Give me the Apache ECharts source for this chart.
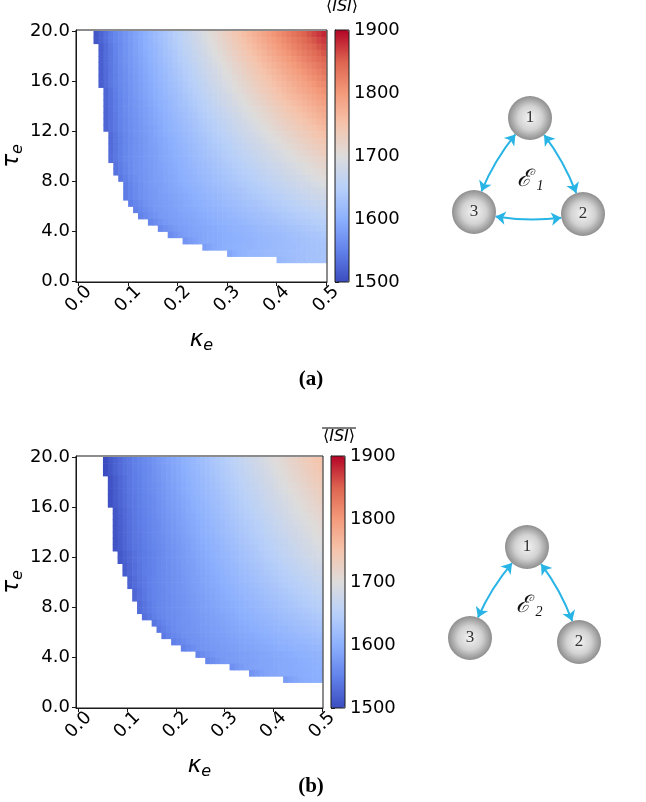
<!DOCTYPE html>
<html>
<head>
<meta charset="utf-8">
<title>ISI maps</title>
<script src="https://cdn.jsdelivr.net/npm/echarts@6/dist/echarts.min.js"></script>
<style>
  html, body { margin: 0; padding: 0; background: #fff; }
  #chart { width: 646px; height: 802px; }
</style>
</head>
<body>
<div id="chart"></div>
<script>
// grid cell centres: kappa_e columns (left to right), tau_e rows (top to bottom)
const kappaCells = [0.005,0.015,0.025,0.035,0.045,0.055,0.065,0.075,0.085,0.095,0.105,0.115,0.125,0.135,0.145,0.155,0.165,0.175,0.185,0.195,0.205,0.215,0.225,0.235,0.245,0.255,0.265,0.275,0.285,0.295,0.305,0.315,0.325,0.335,0.345,0.355,0.365,0.375,0.385,0.395,0.405,0.415,0.425,0.435,0.445,0.455,0.465,0.475,0.485,0.495]
const tauRows = [19.75,19.25,18.75,18.25,17.75,17.25,16.75,16.25,15.75,15.25,14.75,14.25,13.75,13.25,12.75,12.25,11.75,11.25,10.75,10.25,9.75,9.25,8.75,8.25,7.75,7.25,6.75,6.25,5.75,5.25,4.75,4.25,3.75,3.25,2.75,2.25,1.75,1.25,0.75,0.25]

const kappaTicks = [0, 0.1, 0.2, 0.3, 0.4, 0.5]
const tauTicks = [0, 4, 8, 12, 16, 20]

// mean ISI, one row per tau row; every row ends at kappa = 0.495 (empty cells on the left are not stored)
const isiA = [
  [1510,1522,1534,1545,1555,1563,1570,1578,1586,1594,1601,1609,1617,1625,1633,1640,1648,1656,1664,1671,1679,1687,1695,1703,1710,1718,1726,1734,1742,1749,1757,1765,1773,1780,1788,1796,1804,1812,1819,1827,1835,1843,1850,1858,1866,1874,1882],
  [1510,1523,1534,1545,1555,1562,1570,1577,1585,1592,1600,1608,1615,1623,1630,1638,1646,1653,1661,1668,1676,1684,1691,1699,1706,1714,1721,1729,1737,1744,1752,1759,1767,1775,1782,1790,1797,1805,1813,1820,1828,1835,1843,1851,1858,1866,1873],
  [1518,1530,1542,1552,1561,1569,1576,1584,1591,1599,1606,1613,1621,1628,1636,1643,1650,1658,1665,1673,1680,1687,1695,1702,1710,1717,1725,1732,1739,1747,1754,1762,1769,1776,1784,1791,1799,1806,1813,1821,1828,1836,1843,1850,1858,1865],
  [1518,1530,1541,1552,1561,1568,1575,1583,1590,1597,1604,1611,1619,1626,1633,1640,1648,1655,1662,1669,1676,1684,1691,1698,1705,1713,1720,1727,1734,1741,1749,1756,1763,1770,1778,1785,1792,1799,1806,1814,1821,1828,1835,1842,1850,1857],
  [1518,1530,1541,1551,1560,1567,1574,1581,1588,1595,1602,1609,1616,1623,1630,1637,1645,1652,1659,1666,1673,1680,1687,1694,1701,1708,1715,1722,1729,1736,1743,1750,1757,1764,1771,1778,1785,1792,1799,1806,1813,1821,1828,1835,1842,1849],
  [1518,1530,1540,1550,1559,1566,1573,1580,1586,1593,1600,1607,1614,1621,1628,1634,1641,1648,1655,1662,1669,1676,1682,1689,1696,1703,1710,1717,1723,1730,1737,1744,1751,1758,1765,1771,1778,1785,1792,1799,1806,1813,1819,1826,1833,1840],
  [1518,1529,1540,1550,1558,1565,1572,1578,1585,1592,1598,1605,1612,1618,1625,1632,1638,1645,1652,1658,1665,1672,1678,1685,1692,1698,1705,1712,1718,1725,1732,1738,1745,1752,1758,1765,1772,1778,1785,1792,1798,1805,1812,1818,1825,1832],
  [1518,1529,1540,1549,1558,1564,1571,1577,1584,1590,1597,1603,1610,1616,1623,1629,1636,1642,1649,1655,1662,1668,1675,1681,1688,1694,1700,1707,1713,1720,1726,1733,1739,1746,1752,1759,1765,1772,1778,1785,1791,1798,1804,1811,1817,1824],
  [1518,1529,1540,1549,1557,1563,1570,1576,1582,1589,1595,1601,1608,1614,1620,1627,1633,1639,1646,1652,1658,1664,1671,1677,1683,1690,1696,1702,1709,1715,1721,1728,1734,1740,1746,1753,1759,1765,1772,1778,1784,1791,1797,1803,1810,1816],
  [1524,1535,1546,1555,1563,1569,1575,1581,1587,1594,1600,1606,1612,1618,1624,1630,1637,1643,1649,1655,1661,1667,1673,1680,1686,1692,1698,1704,1710,1716,1723,1729,1735,1741,1747,1753,1759,1766,1772,1778,1784,1790,1796,1802,1808],
  [1524,1535,1545,1554,1562,1568,1574,1580,1586,1592,1598,1604,1610,1616,1621,1627,1633,1639,1645,1651,1657,1663,1669,1675,1681,1687,1693,1699,1705,1711,1717,1723,1729,1735,1741,1747,1753,1759,1765,1770,1776,1782,1788,1794,1800],
  [1524,1534,1544,1553,1561,1567,1572,1578,1584,1590,1596,1601,1607,1613,1619,1625,1630,1636,1642,1648,1653,1659,1665,1671,1677,1682,1688,1694,1700,1706,1711,1717,1723,1729,1735,1740,1746,1752,1758,1763,1769,1775,1781,1787,1792],
  [1523,1534,1544,1552,1560,1565,1571,1577,1582,1588,1594,1599,1605,1610,1616,1622,1627,1633,1638,1644,1650,1655,1661,1666,1672,1678,1683,1689,1695,1700,1706,1711,1717,1723,1728,1734,1739,1745,1751,1756,1762,1767,1773,1779,1784],
  [1523,1534,1543,1552,1559,1565,1570,1575,1581,1586,1592,1597,1603,1608,1614,1619,1624,1630,1635,1641,1646,1652,1657,1663,1668,1673,1679,1684,1690,1695,1701,1706,1711,1717,1722,1728,1733,1739,1744,1750,1755,1760,1766,1771,1777],
  [1523,1534,1543,1551,1558,1564,1569,1574,1580,1585,1590,1595,1601,1606,1611,1616,1622,1627,1632,1637,1643,1648,1653,1658,1664,1669,1674,1679,1685,1690,1695,1700,1706,1711,1716,1722,1727,1732,1737,1743,1748,1753,1758,1764,1769],
  [1524,1534,1543,1551,1558,1563,1568,1573,1578,1583,1588,1594,1599,1604,1609,1614,1619,1624,1629,1634,1639,1644,1650,1655,1660,1665,1670,1675,1680,1685,1690,1695,1700,1706,1711,1716,1721,1726,1731,1736,1741,1746,1751,1756,1762],
  [1529,1539,1548,1555,1562,1567,1572,1577,1582,1587,1592,1597,1602,1606,1611,1616,1621,1626,1631,1636,1641,1646,1651,1655,1660,1665,1670,1675,1680,1685,1690,1695,1700,1704,1709,1714,1719,1724,1729,1734,1739,1744,1749,1753],
  [1529,1539,1547,1555,1562,1566,1571,1576,1581,1585,1590,1595,1599,1604,1609,1614,1618,1623,1628,1632,1637,1642,1647,1651,1656,1661,1665,1670,1675,1680,1684,1689,1694,1698,1703,1708,1712,1717,1722,1727,1731,1736,1741,1745],
  [1529,1539,1548,1555,1562,1566,1571,1575,1580,1584,1589,1593,1598,1602,1607,1611,1616,1620,1625,1630,1634,1639,1643,1648,1652,1657,1661,1666,1670,1675,1679,1684,1688,1693,1697,1702,1707,1711,1716,1720,1725,1729,1734,1738],
  [1530,1540,1548,1555,1562,1566,1570,1575,1579,1583,1588,1592,1596,1601,1605,1609,1614,1618,1622,1627,1631,1635,1640,1644,1648,1653,1657,1661,1666,1670,1674,1679,1683,1687,1692,1696,1700,1705,1709,1713,1718,1722,1726,1731],
  [1531,1540,1548,1556,1562,1566,1570,1574,1578,1582,1587,1591,1595,1599,1603,1607,1611,1616,1620,1624,1628,1632,1636,1641,1645,1649,1653,1657,1661,1665,1670,1674,1678,1682,1686,1690,1694,1699,1703,1707,1711,1715,1719,1723],
  [1536,1545,1553,1560,1566,1570,1574,1577,1581,1585,1589,1593,1597,1601,1605,1609,1613,1617,1621,1625,1629,1633,1637,1641,1645,1649,1653,1657,1661,1665,1669,1673,1676,1680,1684,1688,1692,1696,1700,1704,1708,1712,1716],
  [1536,1545,1553,1560,1566,1569,1573,1577,1581,1584,1588,1592,1596,1600,1603,1607,1611,1615,1618,1622,1626,1630,1634,1637,1641,1645,1649,1652,1656,1660,1664,1668,1671,1675,1679,1683,1687,1690,1694,1698,1702,1705,1709],
  [1541,1549,1557,1563,1569,1572,1576,1580,1583,1587,1590,1594,1598,1601,1605,1608,1612,1616,1619,1623,1626,1630,1634,1637,1641,1644,1648,1651,1655,1659,1662,1666,1669,1673,1677,1680,1684,1687,1691,1695,1698,1702],
  [1544,1553,1560,1566,1572,1575,1579,1582,1585,1589,1592,1596,1599,1603,1606,1609,1613,1616,1620,1623,1626,1630,1633,1637,1640,1643,1647,1650,1654,1657,1661,1664,1667,1671,1674,1678,1681,1684,1688,1691,1695],
  [1544,1552,1559,1566,1571,1574,1577,1581,1584,1587,1590,1593,1597,1600,1603,1606,1610,1613,1616,1619,1623,1626,1629,1632,1635,1639,1642,1645,1648,1652,1655,1658,1661,1665,1668,1671,1674,1677,1681,1684,1687],
  [1544,1552,1559,1565,1570,1573,1576,1579,1582,1585,1588,1591,1594,1597,1600,1604,1607,1610,1613,1616,1619,1622,1625,1628,1631,1634,1637,1640,1643,1646,1649,1652,1655,1658,1661,1665,1668,1671,1674,1677,1680],
  [1546,1554,1561,1567,1572,1575,1578,1580,1583,1586,1589,1592,1595,1598,1600,1603,1606,1609,1612,1615,1618,1621,1623,1626,1629,1632,1635,1638,1641,1644,1646,1649,1652,1655,1658,1661,1664,1667,1669,1672],
  [1549,1556,1563,1569,1574,1576,1579,1582,1584,1587,1590,1592,1595,1598,1600,1603,1606,1608,1611,1614,1617,1619,1622,1625,1627,1630,1633,1635,1638,1641,1643,1646,1649,1652,1654,1657,1660,1662,1665],
  [1551,1558,1565,1570,1575,1577,1580,1582,1585,1587,1590,1592,1595,1597,1600,1602,1605,1607,1610,1612,1615,1617,1620,1622,1625,1627,1630,1632,1635,1637,1640,1642,1645,1647,1650,1652,1655,1657],
  [1555,1562,1568,1574,1578,1580,1583,1585,1587,1590,1592,1594,1597,1599,1601,1604,1606,1608,1611,1613,1615,1618,1620,1622,1625,1627,1629,1632,1634,1636,1639,1641,1643,1646,1648,1650],
  [1558,1565,1571,1576,1580,1582,1585,1587,1589,1591,1593,1595,1598,1600,1602,1604,1606,1608,1610,1613,1615,1617,1619,1621,1623,1625,1628,1630,1632,1634,1636,1638,1641,1643],
  [1562,1569,1575,1580,1584,1586,1588,1590,1592,1594,1596,1598,1600,1602,1604,1606,1608,1610,1612,1614,1616,1617,1619,1621,1623,1625,1627,1629,1631,1633,1635,1637],
  [1570,1577,1582,1587,1591,1593,1594,1596,1598,1600,1601,1603,1605,1607,1608,1610,1612,1614,1616,1617,1619,1621,1623,1624,1626,1628,1630,1631,1633],
  [1580,1586,1592,1596,1600,1601,1603,1604,1606,1607,1609,1611,1612,1614,1615,1617,1618,1620,1621,1623,1625,1626,1628,1629,1631],
  [1590,1597,1602,1606,1610,1611,1612,1614,1615,1616,1618,1619,1620,1622,1623,1624,1626,1627,1628,1630],
  [1612,1616,1619,1621,1623,1624,1626,1627,1628,1629]
]

const isiB = [
  [1501,1512,1521,1529,1537,1542,1547,1553,1558,1563,1569,1574,1579,1585,1590,1595,1601,1606,1611,1617,1622,1627,1633,1638,1643,1649,1654,1659,1665,1670,1675,1681,1686,1691,1697,1702,1707,1713,1718,1723,1729,1734,1739,1745,1750],
  [1501,1511,1521,1529,1536,1541,1547,1552,1557,1562,1568,1573,1578,1583,1589,1594,1599,1604,1610,1615,1620,1625,1631,1636,1641,1646,1651,1657,1662,1667,1672,1678,1683,1688,1693,1699,1704,1709,1714,1720,1725,1730,1735,1741,1746],
  [1501,1511,1520,1529,1536,1541,1546,1551,1556,1561,1567,1572,1577,1582,1587,1592,1598,1603,1608,1613,1618,1623,1629,1634,1639,1644,1649,1654,1660,1665,1670,1675,1680,1685,1690,1696,1701,1706,1711,1716,1721,1727,1732,1737,1742],
  [1506,1516,1525,1533,1540,1545,1550,1555,1560,1566,1571,1576,1581,1586,1591,1596,1601,1606,1611,1616,1621,1626,1631,1637,1642,1647,1652,1657,1662,1667,1672,1677,1682,1687,1692,1697,1702,1708,1713,1718,1723,1728,1733,1738],
  [1506,1516,1525,1532,1539,1544,1549,1554,1559,1564,1569,1574,1579,1584,1589,1594,1599,1604,1609,1614,1619,1624,1629,1634,1639,1644,1649,1654,1659,1664,1669,1674,1679,1684,1689,1694,1699,1704,1709,1714,1719,1724,1729,1734],
  [1505,1515,1524,1532,1539,1544,1549,1554,1559,1563,1568,1573,1578,1583,1588,1593,1598,1603,1608,1612,1617,1622,1627,1632,1637,1642,1647,1652,1657,1661,1666,1671,1676,1681,1686,1691,1696,1701,1706,1710,1715,1720,1725,1730],
  [1505,1515,1524,1531,1538,1543,1548,1553,1557,1562,1567,1572,1577,1581,1586,1591,1596,1601,1606,1610,1615,1620,1625,1630,1634,1639,1644,1649,1654,1658,1663,1668,1673,1678,1682,1687,1692,1697,1702,1707,1711,1716,1721,1726],
  [1505,1514,1523,1531,1538,1542,1547,1552,1556,1561,1566,1571,1575,1580,1585,1589,1594,1599,1604,1608,1613,1618,1622,1627,1632,1637,1641,1646,1651,1656,1660,1665,1670,1674,1679,1684,1689,1693,1698,1703,1707,1712,1717,1722],
  [1509,1519,1527,1535,1542,1546,1551,1555,1560,1565,1569,1574,1579,1583,1588,1593,1597,1602,1606,1611,1616,1620,1625,1630,1634,1639,1644,1648,1653,1658,1662,1667,1671,1676,1681,1685,1690,1695,1699,1704,1709,1713,1718],
  [1509,1518,1527,1534,1541,1545,1550,1554,1559,1564,1568,1573,1577,1582,1586,1591,1595,1600,1604,1609,1614,1618,1623,1627,1632,1636,1641,1645,1650,1655,1659,1664,1668,1673,1677,1682,1686,1691,1695,1700,1705,1709,1714],
  [1508,1518,1526,1534,1540,1545,1549,1553,1558,1562,1567,1571,1576,1580,1585,1589,1594,1598,1603,1607,1612,1616,1620,1625,1629,1634,1638,1643,1647,1652,1656,1661,1665,1670,1674,1679,1683,1688,1692,1696,1701,1705,1710],
  [1508,1517,1526,1533,1539,1544,1548,1552,1557,1561,1566,1570,1574,1579,1583,1588,1592,1596,1601,1605,1609,1614,1618,1623,1627,1631,1636,1640,1644,1649,1653,1658,1662,1666,1671,1675,1680,1684,1688,1693,1697,1701,1706],
  [1507,1517,1525,1532,1539,1543,1547,1552,1556,1560,1564,1569,1573,1577,1582,1586,1590,1595,1599,1603,1607,1612,1616,1620,1625,1629,1633,1638,1642,1646,1650,1655,1659,1663,1668,1672,1676,1681,1685,1689,1693,1698,1702],
  [1507,1516,1524,1532,1538,1542,1546,1551,1555,1559,1563,1567,1572,1576,1580,1584,1588,1593,1597,1601,1605,1609,1614,1618,1622,1626,1631,1635,1639,1643,1647,1652,1656,1660,1664,1668,1673,1677,1681,1685,1689,1694,1698],
  [1507,1516,1524,1531,1537,1541,1545,1550,1554,1558,1562,1566,1570,1574,1578,1583,1587,1591,1595,1599,1603,1607,1611,1616,1620,1624,1628,1632,1636,1640,1645,1649,1653,1657,1661,1665,1669,1673,1678,1682,1686,1690,1694],
  [1510,1519,1527,1534,1540,1544,1548,1552,1557,1561,1565,1569,1573,1577,1581,1585,1589,1593,1597,1601,1605,1609,1613,1617,1621,1625,1629,1633,1637,1641,1645,1649,1653,1658,1662,1666,1670,1674,1678,1682,1686,1690],
  [1511,1519,1527,1534,1540,1544,1548,1552,1556,1560,1564,1568,1572,1576,1580,1583,1587,1591,1595,1599,1603,1607,1611,1615,1619,1623,1627,1631,1635,1638,1642,1646,1650,1654,1658,1662,1666,1670,1674,1678,1682,1686],
  [1515,1524,1532,1539,1544,1548,1552,1556,1560,1563,1567,1571,1575,1578,1582,1586,1590,1594,1597,1601,1605,1609,1612,1616,1620,1624,1628,1631,1635,1639,1643,1646,1650,1654,1658,1662,1665,1669,1673,1677,1680],
  [1516,1525,1533,1539,1545,1548,1552,1556,1559,1563,1567,1570,1574,1578,1581,1585,1588,1592,1596,1599,1603,1607,1610,1614,1618,1621,1625,1628,1632,1636,1639,1643,1647,1650,1654,1658,1661,1665,1669,1672,1676],
  [1521,1529,1537,1543,1549,1552,1556,1559,1562,1566,1569,1573,1576,1580,1583,1587,1590,1594,1597,1601,1604,1608,1611,1615,1618,1622,1625,1629,1632,1636,1639,1643,1646,1650,1653,1657,1660,1664,1667,1671],
  [1521,1530,1537,1543,1549,1552,1555,1559,1562,1565,1569,1572,1575,1579,1582,1585,1589,1592,1595,1599,1602,1605,1609,1612,1615,1619,1622,1625,1629,1632,1635,1639,1642,1645,1649,1652,1655,1659,1662,1665],
  [1525,1533,1541,1547,1552,1555,1558,1562,1565,1568,1571,1574,1578,1581,1584,1587,1590,1594,1597,1600,1603,1606,1610,1613,1616,1619,1622,1626,1629,1632,1635,1638,1642,1645,1648,1651,1654,1658,1661],
  [1526,1534,1541,1547,1552,1555,1558,1561,1564,1567,1570,1573,1576,1579,1582,1585,1588,1592,1595,1598,1601,1604,1607,1610,1613,1616,1619,1622,1625,1628,1631,1634,1637,1640,1643,1646,1649,1653,1656],
  [1529,1537,1544,1550,1555,1558,1561,1564,1566,1569,1572,1575,1578,1581,1584,1587,1590,1593,1595,1598,1601,1604,1607,1610,1613,1616,1619,1622,1624,1627,1630,1633,1636,1639,1642,1645,1648,1651],
  [1530,1538,1544,1550,1555,1558,1560,1563,1566,1569,1571,1574,1577,1580,1582,1585,1588,1591,1593,1596,1599,1602,1604,1607,1610,1613,1615,1618,1621,1624,1626,1629,1632,1635,1637,1640,1643,1646],
  [1533,1541,1547,1553,1557,1560,1562,1565,1568,1570,1573,1575,1578,1580,1583,1586,1588,1591,1593,1596,1599,1601,1604,1606,1609,1611,1614,1617,1619,1622,1624,1627,1630,1632,1635,1637,1640],
  [1538,1546,1552,1558,1562,1565,1567,1569,1572,1574,1577,1579,1581,1584,1586,1589,1591,1594,1596,1598,1601,1603,1606,1608,1610,1613,1615,1618,1620,1623,1625,1627,1630,1632,1635],
  [1541,1548,1554,1560,1564,1566,1568,1571,1573,1575,1577,1580,1582,1584,1586,1589,1591,1593,1595,1598,1600,1602,1604,1607,1609,1611,1613,1616,1618,1620,1622,1625,1627,1629],
  [1543,1550,1556,1561,1565,1567,1569,1571,1573,1576,1578,1580,1582,1584,1586,1588,1590,1592,1594,1596,1598,1601,1603,1605,1607,1609,1611,1613,1615,1617,1619,1621,1623],
  [1547,1553,1559,1564,1568,1570,1572,1574,1576,1578,1580,1582,1584,1585,1587,1589,1591,1593,1595,1597,1599,1601,1603,1605,1607,1609,1610,1612,1614,1616,1618],
  [1550,1556,1562,1567,1571,1572,1574,1576,1578,1579,1581,1583,1585,1586,1588,1590,1592,1593,1595,1597,1599,1600,1602,1604,1606,1607,1609,1611,1613],
  [1553,1560,1566,1570,1574,1575,1577,1578,1580,1582,1583,1585,1586,1588,1589,1591,1593,1594,1596,1597,1599,1601,1602,1604,1605,1607],
  [1557,1563,1569,1573,1577,1578,1579,1581,1582,1584,1585,1587,1588,1589,1591,1592,1594,1595,1596,1598,1599,1601,1602,1604],
  [1565,1572,1577,1581,1584,1586,1587,1588,1589,1591,1592,1593,1594,1596,1597,1598,1599,1601,1602],
  [1571,1577,1582,1586,1589,1590,1592,1593,1594,1595,1596,1597,1598,1599,1600],
  [1578,1584,1589,1593,1596,1597,1598,1599]
]

// the two three-neuron networks (layout units, y grows downward)
const nodesA = [{ name: '1', x: 56, y: 0 }, { name: '2', x: 109, y: 96 }, { name: '3', x: 0, y: 94 }]
const linksA = [['1', '2'], ['2', '3'], ['3', '1']]
const nodesB = [{ name: '1', x: 57, y: 0 }, { name: '2', x: 109, y: 95 }, { name: '3', x: 0, y: 91 }]
const linksB = [['1', '2'], ['3', '1']]

const coolwarm = ['#3b4cc0', '#6282ea', '#8db0fe', '#b8d0f9', '#dddcdc', '#f5c4ac', '#f49a7b', '#dd6450', '#b40426']
const dK = kappaCells[1] - kappaCells[0]
const dT = tauRows[0] - tauRows[1]

function cells(rows) {
  let out = []
  rows.forEach((row, r) => {
    let first = kappaCells.length - row.length
    row.forEach((v, j) => {
      out.push([kappaCells[first + j], tauRows[r], v])
    })
  })
  return out
}

function cellItem(params, api) {
  let k = api.value(0),
    t = api.value(1)
  let p0 = api.coord([k - dK / 2, t + dT / 2])
  let p1 = api.coord([k + dK / 2, t - dT / 2])
  return {
    type: 'rect',
    shape: { x: p0[0], y: p0[1], width: p1[0] - p0[0] + 0.6, height: p1[1] - p0[1] + 0.6 },
    style: { fill: api.visual('color') },
  }
}

const ink = '#1a1a1a'
const tickFont = { fontFamily: 'DejaVu Sans', fontSize: 18, color: '#000' }
const mathRich = {
  v: { fontFamily: 'DejaVu Sans', fontStyle: 'italic', fontSize: 23, color: '#000' },
  s: { fontFamily: 'DejaVu Sans', fontStyle: 'italic', fontSize: 16, color: '#000', padding: [11, 0, 0, 0] },
}

function kappaAxis(gridIndex) {
  return {
    type: 'value',
    gridIndex,
    min: -0.0054,
    max: 0.502,
    axisLine: { show: true, onZero: false, lineStyle: { color: ink, width: 1 } },
    axisTick: { show: true, length: 4, customValues: kappaTicks, lineStyle: { color: ink } },
    axisLabel: {
      customValues: kappaTicks,
      rotate: 45,
      align: 'center',
      verticalAlign: 'middle',
      margin: 17,
      formatter: (v) => v.toFixed(1),
      ...tickFont,
    },
    splitLine: { show: false },
    name: '{v|κ}{s|e}',
    nameLocation: 'middle',
    nameGap: 45,
    nameTextStyle: { rich: mathRich },
  }
}

function tauAxis(gridIndex) {
  return {
    type: 'value',
    gridIndex,
    min: -0.05,
    max: 20.08,
    axisLine: { show: true, onZero: false, lineStyle: { color: ink, width: 1 } },
    axisTick: { show: true, length: 4, customValues: tauTicks, lineStyle: { color: ink } },
    axisLabel: { customValues: tauTicks, margin: 6, formatter: (v) => v.toFixed(1), ...tickFont },
    splitLine: { show: false },
    name: '{v|τ}{s|e}',
    nameLocation: 'middle',
    nameRotate: 90,
    nameGap: 47,
    nameTextStyle: { rich: mathRich },
  }
}

function barXAxis(gridIndex) {
  return { type: 'value', gridIndex, min: 0, max: 1, show: false }
}

function barYAxis(gridIndex) {
  return {
    type: 'value',
    gridIndex,
    position: 'right',
    min: 1500,
    max: 1900,
    interval: 100,
    axisLine: { show: true, lineStyle: { color: ink, width: 1 } },
    axisTick: { show: true, length: 4, lineStyle: { color: ink } },
    axisLabel: { margin: 5, formatter: (v) => String(v), ...tickFont },
    splitLine: { show: false },
  }
}

function colorBar(seriesIndex, left, top) {
  return {
    type: 'continuous',
    seriesIndex,
    dimension: 2,
    min: 1500,
    max: 1900,
    calculable: false,
    hoverLink: false,
    left,
    top,
    padding: 0,
    itemWidth: 14,
    itemHeight: 252,
    inRange: { color: coolwarm },
  }
}

const nodeFill = {
  type: 'radial',
  x: 0.5,
  y: 0.5,
  r: 0.5,
  colorStops: [
    { offset: 0, color: '#f4f4f4' },
    { offset: 0.55, color: '#d2d2d2' },
    { offset: 1, color: '#8e8e8e' },
  ],
}

function network(nodes, links, box) {
  return {
    type: 'graph',
    layout: 'none',
    ...box,
    roam: false,
    silent: true,
    symbol: 'circle',
    symbolSize: 44,
    data: nodes.map((n) => ({ name: n.name, x: n.x, y: n.y })),
    links: links.map((l) => ({ source: l[0], target: l[1] })),
    edgeSymbol: ['arrow', 'arrow'],
    edgeSymbolSize: 10,
    itemStyle: { color: nodeFill },
    label: { show: true, position: 'inside', fontFamily: 'Liberation Serif', fontSize: 17, color: '#333' },
    lineStyle: { color: '#29b4e6', width: 2, opacity: 1, curveness: 0.12 },
    emphasis: { disabled: true },
  }
}

function isiTitle(cx, base) {
  return {
    type: 'group',
    children: [
      {
        type: 'text',
        style: {
          x: cx,
          y: base,
          text: '{b|⟨}{i|ISI}{b|⟩}',
          textAlign: 'center',
          textVerticalAlign: 'bottom',
          rich: {
            b: { fontFamily: 'DejaVu Sans', fontSize: 16, color: '#000' },
            i: { fontFamily: 'DejaVu Sans', fontStyle: 'italic', fontSize: 16, color: '#000' },
          },
        },
      },
      { type: 'line', shape: { x1: cx - 17, y1: base - 17, x2: cx + 17, y2: base - 17 }, style: { stroke: '#000', lineWidth: 1 } },
    ],
  }
}

function ensemble(cx, cy, sub) {
  return {
    type: 'group',
    children: [
      {
        type: 'text',
        style: { x: cx - 4, y: cy, text: 'ℰ', textAlign: 'center', textVerticalAlign: 'middle', fontFamily: 'DejaVu Serif', fontStyle: 'italic', fontSize: 24, fill: '#111' },
      },
      {
        type: 'text',
        style: { x: cx + 12, y: cy + 6, text: sub, textAlign: 'center', textVerticalAlign: 'middle', fontFamily: 'Liberation Serif', fontStyle: 'italic', fontSize: 14, fill: '#111' },
      },
    ],
  }
}

function panelTag(cx, cy, text) {
  return {
    type: 'text',
    style: { x: cx, y: cy, text, textAlign: 'center', textVerticalAlign: 'middle', fontFamily: 'Liberation Serif', fontWeight: 'bold', fontSize: 21, fill: '#000' },
  }
}

const frame = { show: true, borderColor: ink, borderWidth: 1, backgroundColor: 'transparent', z: 10 }

const option = {
  animation: false,
  backgroundColor: '#fff',
  grid: [
    { left: 74, top: 30, width: 253, height: 252, ...frame },
    { left: 335, top: 30, width: 14, height: 252, ...frame },
    { left: 70, top: 456, width: 253, height: 252, ...frame },
    { left: 331, top: 456, width: 14, height: 252, ...frame },
  ],
  xAxis: [kappaAxis(0), barXAxis(1), kappaAxis(2), barXAxis(3)],
  yAxis: [tauAxis(0), barYAxis(1), tauAxis(2), barYAxis(3)],
  visualMap: [colorBar(0, 335, 30), colorBar(1, 331, 456)],
  series: [
    { type: 'custom', xAxisIndex: 0, yAxisIndex: 0, renderItem: cellItem, data: cells(isiA), clip: true, silent: true },
    { type: 'custom', xAxisIndex: 2, yAxisIndex: 2, renderItem: cellItem, data: cells(isiB), clip: true, silent: true },
    network(nodesA, linksA, { left: 474, top: 118, width: 109, height: 96 }),
    network(nodesB, linksB, { left: 470, top: 547, width: 109, height: 95 }),
  ],
  graphic: [
    isiTitle(342, 15),
    isiTitle(339, 445),
    ensemble(528, 180, '1'),
    ensemble(527, 606, '2'),
    panelTag(311, 380, '(a)'),
    panelTag(311, 787, '(b)'),
  ],
}

const myChart = echarts.init(document.getElementById('chart'))
myChart.setOption(option)
</script>
</body>
</html>
